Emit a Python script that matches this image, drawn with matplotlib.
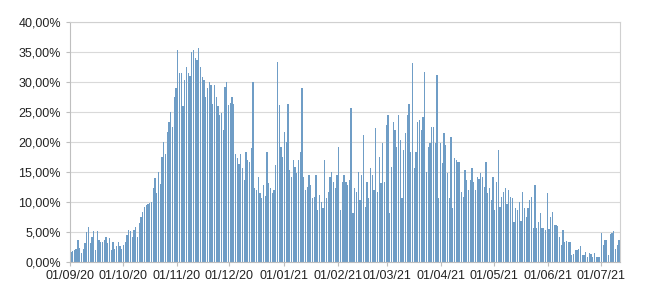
import numpy as np
import pandas as pd
import matplotlib
matplotlib.use('Agg')
import matplotlib.pyplot as plt
import matplotlib.dates as mdates
from matplotlib.ticker import FuncFormatter, MultipleLocator

# daily values (%), one list per month
sep20 = [1.7, 1.9, 2.0, 2.2, 3.7, 2.4, 1.5, 2.2, 3.1, 5.0, 5.9, 3.1, 4.2, 5.1, 2.0,
         5.1, 3.7, 3.4, 3.4, 3.7, 4.2, 3.1, 4.0, 2.0, 3.4, 2.2, 2.6, 3.4, 2.6, 2.2]
oct20 = [2.8, 3.4, 4.5, 5.3, 5.1, 4.2, 5.3, 5.9, 4.2, 6.5, 7.5, 8.3, 9.2, 9.5, 9.7,
         9.8, 10.0, 12.3, 14.0, 11.5, 15.0, 13.0, 17.5, 20.0, 18.0, 21.7, 23.3, 25.0,
         22.5, 27.5, 29.0]
nov20 = [35.3, 31.5, 31.5, 26.0, 30.3, 32.5, 31.5, 31.0, 35.0, 35.3, 34.0, 33.7,
         35.6, 32.5, 30.9, 30.3, 27.5, 29.0, 30.0, 29.5, 26.4, 29.5, 27.5, 26.0,
         24.5, 24.8, 22.0, 29.2, 30.0, 26.2]
dec20 = [26.5, 27.5, 26.4, 18.0, 17.3, 16.4, 18.0, 15.6, 13.7, 18.4, 17.0, 16.7,
         19.0, 30.0, 12.3, 12.0, 14.2, 11.5, 10.6, 12.8, 11.0, 18.4, 13.1, 12.3,
         11.5, 12.0, 16.2, 33.4, 26.2, 19.2, 17.5]
jan21 = [21.7, 20.0, 26.4, 15.3, 14.2, 17.0, 15.9, 14.8, 17.0, 18.4, 29.0, 14.2,
         12.0, 12.5, 14.5, 12.8, 10.6, 10.8, 14.5, 8.7, 11.2, 10.0, 9.0, 17.0, 10.6,
         11.7, 14.2, 15.0, 13.3, 12.3, 14.5]
feb21 = [19.2, 8.7, 13.3, 14.5, 13.3, 12.8, 13.7, 25.6, 8.1, 12.3, 11.7, 15.0, 10.3,
         14.5, 21.2, 9.2, 13.3, 10.6, 15.6, 14.5, 12.0, 22.3, 11.7, 17.5, 13.1, 19.8,
         13.3, 22.8]
mar21 = [24.5, 8.1, 15.9, 23.3, 22.0, 19.2, 24.5, 20.3, 10.6, 18.7, 21.5, 24.5, 26.4,
         18.4, 33.1, 15.6, 18.4, 23.3, 23.7, 22.0, 24.2, 31.7, 15.0, 19.2, 19.8, 22.5,
         22.5, 19.8, 31.2, 10.6, 19.8]
apr21 = [16.5, 21.5, 19.5, 14.8, 10.6, 20.8, 9.0, 17.3, 17.0, 16.7, 16.7, 11.7, 10.8,
         15.3, 13.7, 12.0, 13.7, 15.6, 13.3, 12.0, 14.2, 13.9, 14.8, 14.2, 12.5, 16.7,
         11.5, 12.3, 10.3, 14.2]
may21 = [8.7, 13.3, 18.7, 9.2, 10.8, 11.7, 12.3, 9.7, 12.0, 10.8, 10.6, 6.7, 9.0, 8.7,
         10.0, 6.8, 11.7, 9.0, 7.5, 9.0, 10.3, 10.8, 5.7, 12.8, 5.6, 6.7, 8.1, 5.7, 5.6,
         5.3, 11.5]
jun21 = [5.5, 7.5, 8.4, 6.2, 6.2, 6.0, 4.2, 2.8, 5.3, 3.3, 3.5, 3.4, 3.3, 1.2, 1.3,
         2.0, 2.0, 2.2, 2.6, 1.2, 1.2, 1.7, 0.9, 1.5, 1.4, 0.8, 1.5, 0.9, 0.9, 0.9]
jul21 = [4.8, 2.8, 3.7, 3.7, 1.2, 4.6, 4.8, 5.1, 2.2, 2.8, 3.7]

values = sep20 + oct20 + nov20 + dec20 + jan21 + feb21 + mar21 + apr21 + may21 + jun21 + jul21
dates = pd.date_range('2020-09-01', periods=len(values), freq='D')

plt.rcParams['font.family'] = ['Liberation Sans', 'DejaVu Sans']

fig = plt.figure(figsize=(6.5, 3.03), dpi=100)
ax = fig.add_axes([70/650, 1 - 262/303, 550/650, 240/303])

x = mdates.date2num(dates)
ax.bar(x + 0.5, values, width=0.72, color='#6f9dc6', linewidth=0, zorder=2)

ax.set_xlim(x[0], x[-1] + 1)
ax.set_ylim(0, 40)
ax.yaxis.set_major_locator(MultipleLocator(5))
ax.yaxis.set_major_formatter(FuncFormatter(lambda v, p: f'{v:.2f}%'.replace('.', ',')))
ax.xaxis.set_major_locator(mdates.MonthLocator())
ax.xaxis.set_major_formatter(mdates.DateFormatter('%d/%m/%y'))

ax.grid(axis='y', color='#d9d9d9', linewidth=0.8, zorder=0)
for s in ax.spines.values():
    s.set_color('#d0d0d0')
    s.set_linewidth(0.8)
ax.spines['left'].set_color('#bfbfbf')
ax.spines['bottom'].set_color('#bfbfbf')
ax.tick_params(axis='both', colors='#bfbfbf', labelcolor='#222222', labelsize=9,
               length=3, width=0.8)
ax.tick_params(axis='x', pad=3)

fig.savefig('out.png', dpi=100, facecolor='white')
